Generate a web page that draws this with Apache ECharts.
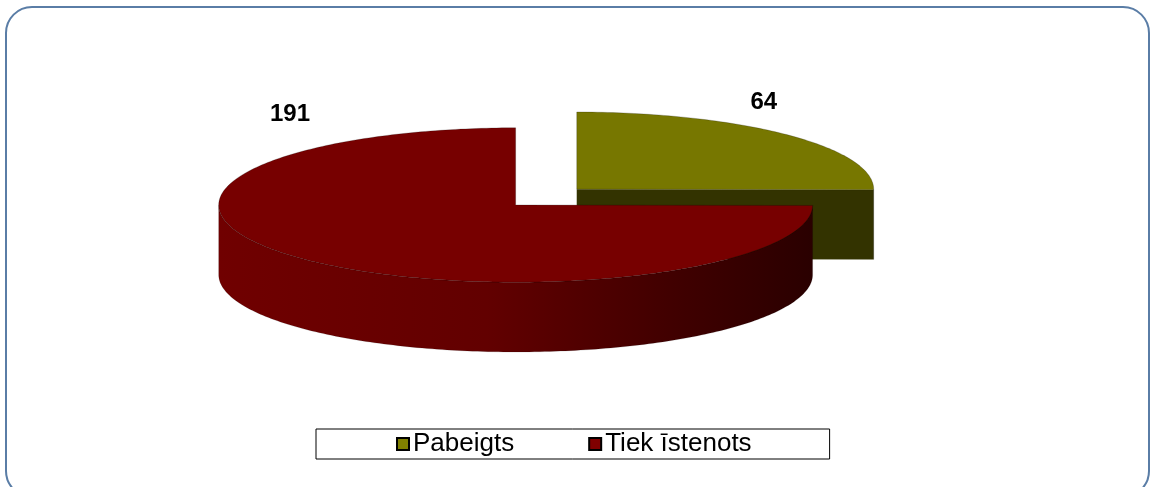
<!DOCTYPE html>
<html>
<head>
<meta charset="utf-8">
<script src="https://cdn.jsdelivr.net/npm/echarts@6/dist/echarts.min.js"></script>
<style>
  html, body { margin: 0; padding: 0; background: #fff; }
  #chart { width: 1151px; height: 487px; }
</style>
</head>
<body>
<div id="chart"></div>
<script>
  // dati
  var categories = ['Pabeigts', 'Tiek īstenots'];
  var values = [64, 191];
  var topColors = ['#777700', '#770000'];
  var legendColors = ['#808000', '#800000'];

  var total = values.reduce(function (a, b) { return a + b; }, 0);

  // slice angles (degrees, counter-clockwise, 0 = 3 o'clock), starting at 12 o'clock going clockwise
  var slices = [];
  var acc = 90;
  values.forEach(function (v) {
    var sweep = v / total * 360;
    slices.push({ start: acc, end: acc - sweep });
    acc -= sweep;
  });

  var chart = echarts.init(document.getElementById('chart'));

  function rad(d) { return d * Math.PI / 180; }

  function makeRender(idx) {
    return function (params, api) {
      var W = api.getWidth();
      var rx = W * 0.258, ry = rx * 0.26, depth = rx * 0.235;
      var cx = W * 0.448, cy = 205;
      var s = slices[idx];
      var mid = rad((s.start + s.end) / 2);
      // explode the small slice
      var e = idx === 0 ? 0.29 : 0;
      cx += e * rx * Math.cos(mid);
      cy -= e * ry * Math.sin(mid);

      function pt(a, dy) {
        return [cx + rx * Math.cos(rad(a)), cy - ry * Math.sin(rad(a)) + (dy || 0)];
      }
      var children = [];
      var dark = idx === 0 ? '#333300' : '#2a0000';

      // cut faces that face the viewer
      [[s.end, s.end - 90], [s.start, s.start + 90]].forEach(function (f) {
        if (Math.sin(rad(f[1])) < -0.01) {
          var p = pt(f[0]);
          children.push({
            type: 'polygon',
            shape: { points: [[cx, cy], p, [p[0], p[1] + depth], [cx, cy + depth]] },
            style: { fill: dark }
          });
        }
      });

      // outer side (front half only)
      var a0 = Math.max(s.end, -180), a1 = Math.min(s.start, 0);
      if (a1 > a0) {
        var top = [], bot = [];
        for (var a = a1; a >= a0; a -= 1) { top.push(pt(a)); bot.push(pt(a, depth)); }
        top.push(pt(a0)); bot.push(pt(a0, depth));
        var side = top.concat(bot.reverse());
        var stops = idx === 0
          ? [{ offset: 0, color: '#4a4a00' }, { offset: 1, color: '#333300' }]
          : [{ offset: 0, color: '#700000' }, { offset: 0.45, color: '#620000' }, { offset: 0.75, color: '#420000' }, { offset: 1, color: '#2a0000' }];
        children.push({
          type: 'polygon',
          shape: { points: side },
          style: {
            fill: new echarts.graphic.LinearGradient(0, 0, 1, 0, stops),
            stroke: 'rgba(0,0,0,0.25)', lineWidth: 0.5
          }
        });
      }

      // top face
      var face = [[cx, cy]];
      for (var b = s.start; b >= s.end; b -= 1) face.push(pt(b));
      face.push(pt(s.end));
      children.push({
        type: 'polygon',
        shape: { points: face },
        style: { fill: topColors[idx], stroke: 'rgba(0,0,0,0.35)', lineWidth: 0.6 }
      });

      // value label
      var lx = idx === 0 ? cx + rx * 0.63 : cx - rx * 0.76;
      var ly = idx === 0 ? cy - ry * 1.12 : cy - ry * 1.17;
      children.push({
        type: 'text',
        style: {
          x: lx, y: ly, text: String(values[idx]),
          fill: '#000', font: 'bold 24px "Liberation Sans", Arial, sans-serif',
          align: 'center', verticalAlign: 'middle'
        }
      });

      return { type: 'group', children: children };
    };
  }

  chart.setOption({
    animation: false,
    color: legendColors,
    graphic: [{
      type: 'rect',
      shape: { x: 6, y: 7, width: 1143, height: 490, r: 26 },
      style: { fill: 'none', stroke: '#5a7da6', lineWidth: 2 },
      silent: true
    }],
    legend: {
      left: 316,
      top: 429,
      padding: [2, 78, 2, 80],
      itemGap: 74,
      itemWidth: 12,
      itemHeight: 12,
      icon: 'rect',
      borderColor: '#000',
      borderWidth: 1,
      itemStyle: { borderColor: '#000', borderWidth: 2 },
      textStyle: { color: '#000', fontSize: 26, fontFamily: '"Liberation Sans", Arial, sans-serif', padding: [0, 0, 0, -1] },
      data: categories
    },
    series: categories.map(function (name, i) {
      return {
        name: name,
        type: 'custom',
        coordinateSystem: 'none',
        renderItem: makeRender(i),
        data: [values[i]],
        itemStyle: { color: legendColors[i] }
      };
    })
  });
</script>
</body>
</html>
